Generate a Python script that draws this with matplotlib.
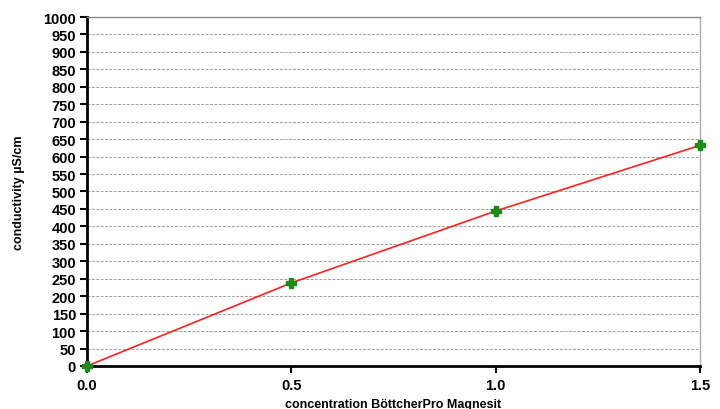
import matplotlib
matplotlib.use("Agg")
import matplotlib.pyplot as plt

concentration = [0.0, 0.5, 1.0, 1.5]
conductivity = [0, 238, 444, 632]
x_ticks = [0.0, 0.5, 1.0, 1.5]
x_tick_labels = ["0.0", "0.5", "1.0", "1.5"]
y_ticks = list(range(0, 1001, 50))

plt.rcParams['font.family'] = ['Liberation Sans', 'DejaVu Sans']

fig = plt.figure(figsize=(7.2, 4.1), dpi=100)
ax = fig.add_axes([0.121, 0.105, 0.851, 0.851])

ax.plot(concentration, conductivity, color='#ff2020', lw=1.2, zorder=3)
ax.plot(concentration, conductivity, linestyle='none', marker='P', ms=6.5,
        color='#1a8a1a', mec='#1a8a1a', zorder=4, clip_on=False)

ax.set_xlim(0, 1.5)
ax.set_ylim(0, 1000)
ax.set_xticks(x_ticks)
ax.set_xticklabels(x_tick_labels)
ax.set_yticks(y_ticks)
ax.tick_params(axis='both', direction='out', length=5, width=1.5, color='black',
               labelsize=10.5)
for lab in ax.get_xticklabels() + ax.get_yticklabels():
    lab.set_fontweight('bold')
ax.tick_params(axis='x', pad=4)
ax.tick_params(axis='y', pad=3)

ax.grid(axis='y', color='#a0a0a0', linestyle=(0, (3, 1.5)), lw=0.7)
ax.set_axisbelow(True)

ax.spines['left'].set_linewidth(2)
ax.spines['bottom'].set_linewidth(2)
ax.spines['right'].set_color('#aaaaaa')
ax.spines['right'].set_linewidth(1)
ax.spines['top'].set_color('#888888')
ax.spines['top'].set_linewidth(1)

ax.set_ylabel('conductivity µS/cm', fontsize=9, fontweight='bold', labelpad=13)
ax.set_xlabel('concentration BöttcherPro Magnesit', fontsize=9, fontweight='bold', labelpad=4)

fig.savefig('out.png', dpi=100)
